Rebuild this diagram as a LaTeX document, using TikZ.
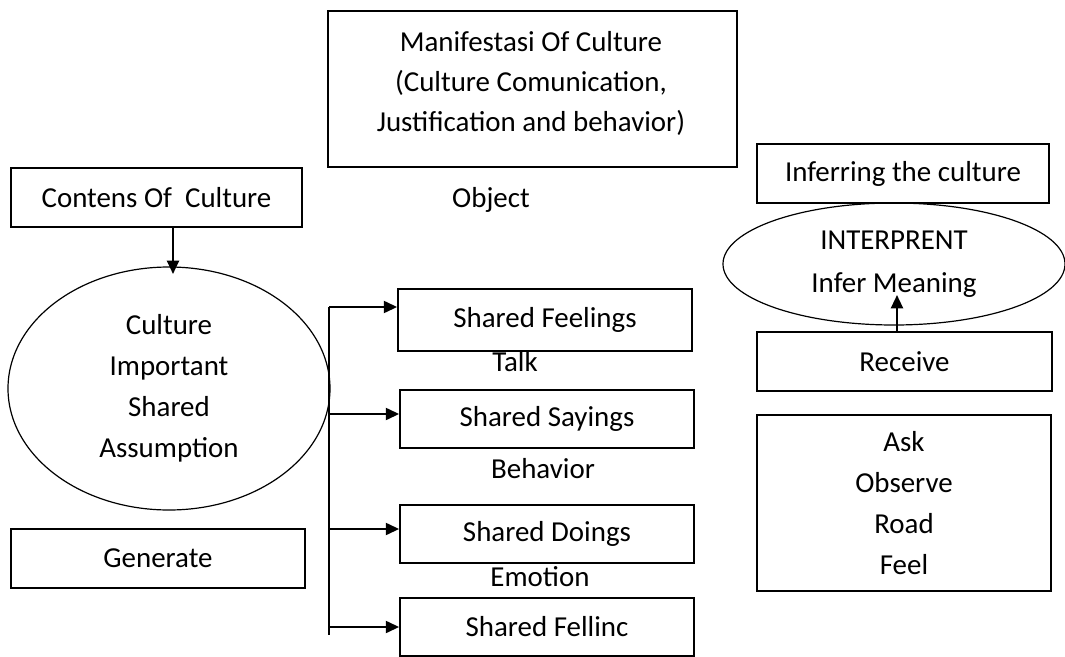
\documentclass[tikz,border=0pt]{standalone}
\usepackage{fontspec}
\setmainfont{Carlito}
\usetikzlibrary{shapes.geometric, arrows.meta}
\tikzset{
    x=0.75pt, y=-0.75pt, % one unit is one pixel of the page, y runs down
    every node/.style={font=\fontsize{21.7}{30.75}\selectfont, align=center, inner sep=0pt}, % text of all nodes
    box/.style={draw, line width=1.3pt, minimum width=220.5pt, minimum height=44.25pt}, % the rectangles
    oval/.style={draw, ellipse, line width=0.9pt}, % the ellipses
    arr/.style={-{Triangle[length=10pt,width=9pt]}, line width=1.6pt}, % the arrows
    trunk/.style={line width=1.5pt}, % the line the four arrows leave from
}
\begin{document}
\begin{tikzpicture}
                            \useasboundingbox (0,0) rectangle (1065,657);
                            % left column
                            \node[box, minimum width=218.25pt] (contens) at (156.5,197.5) {Contens Of~~Culture};
                            \node[oval, minimum width=241.5pt, minimum height=182.25pt] (cult) at (169,388.5) {Culture\\Important\\Shared\\Assumption};
                            \node[box] (generate) at (158,558.5) {Generate};
                            \coordinate (cTip) at (173,274);
                            \draw[arr] (contens.south -| cTip) -- (cTip);
                            % middle column
                            \node[box, minimum width=306.75pt, minimum height=117pt] (manif) at (532.5,89) {};
                            \node[font=\fontsize{21.7}{30}\selectfont] (manifText) at (531,83) {Manifestasi Of Culture\\(Culture Comunication,\\Justification and behavior)};
                            \node (object) at (491,200) {Object};
                            \node[box, minimum height=46.5pt] (feel) at (545,320) {Shared Feelings};
                            \node[box, minimum height=43.5pt] (say) at (547,419) {Shared Sayings};
                            \node[box, minimum height=43.5pt] (doing) at (547,534) {Shared Doings};
                            \node[box, minimum height=43.5pt] (fellinc) at (547,627) {Shared Fellinc};
                            \node (talk) at (515,362) {Talk};
                            \node (behav) at (543,469) {Behavior};
                            \node (emotion) at (540,577) {Emotion};
                            \coordinate (t1) at (329,307);
                            \coordinate (t2) at (329,414);
                            \coordinate (t3) at (329,529);
                            \coordinate (t4) at (329,627);
                            \coordinate (tEnd) at (329,635);
                            \draw[trunk] (t1) -- (tEnd);
                            \draw[arr] (t1) -- (t1 -| feel.west);
                            \draw[arr] (t2) -- (t2 -| say.west);
                            \draw[arr] (t3) -- (t3 -| doing.west);
                            \draw[arr] (t4) -- (t4 -| fellinc.west);
                            % right column
                            \node[box, minimum width=219pt] (infer) at (903,173.5) {Inferring the culture};
                            \node[oval, minimum width=256.5pt, minimum height=91.5pt, font=\fontsize{21.7}{32}\selectfont] (interp) at (894,264) {INTERPRENT\\Infer Meaning};
                            \node[box, minimum width=221.25pt] (receive) at (904.5,361.5) {Receive};
                            \node[box, minimum height=132pt] (ask) at (904,503) {Ask\\Observe\\Road\\Feel};
                            \coordinate (meaning) at (897,295);
                            \draw[arr] (receive.north -| meaning) -- (meaning);
                        \end{tikzpicture}
\end{document}
